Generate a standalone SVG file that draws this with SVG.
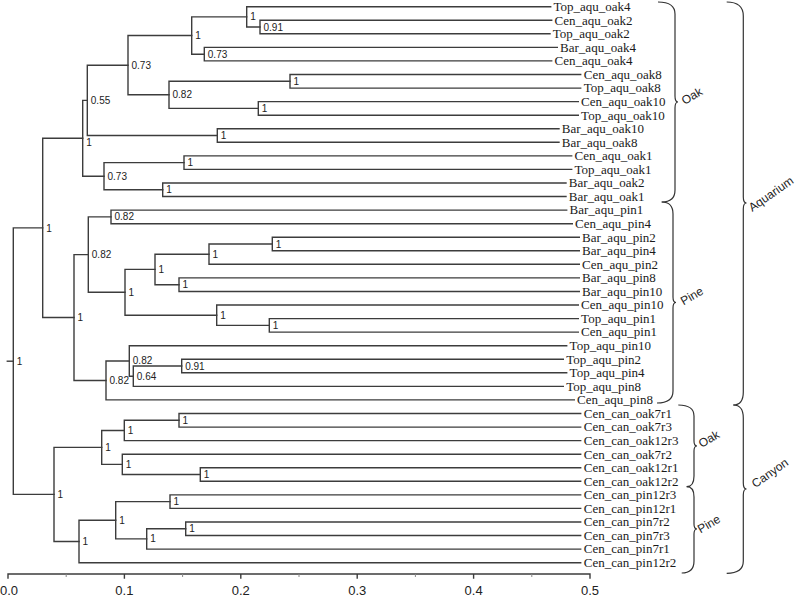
<svg xmlns="http://www.w3.org/2000/svg" width="798" height="597" viewBox="0 0 798 597">
<style>
.br{fill:none;stroke:#3c3c3c;stroke-width:1.4;stroke-linecap:square}
.lf{font-family:"Liberation Serif","Times New Roman",serif;font-size:13px;fill:#1a1a1a}
.sp{font-family:"Liberation Sans",Arial,sans-serif;font-size:10px;fill:#222;dominant-baseline:central}
.ax{font-family:"Liberation Sans",Arial,sans-serif;font-size:13px;fill:#222;text-anchor:middle}
.gl{font-family:"Liberation Sans",Arial,sans-serif;font-size:12px;fill:#222;text-anchor:middle;dominant-baseline:central}
.bc{fill:none;stroke:#333;stroke-width:1.2}
</style>
<rect width="798" height="597" fill="#fff"/>
<g id="connectors" class="br">
<path d="M551.7 20.3H260V33.8H550"/>
<path d="M550.7 6.7H246.7V27H260"/>
<path d="M557.3 47.4H204.3V60.9H551.7"/>
<path d="M246.7 16.9H191.7V54.2H204.3"/>
<path d="M580.7 74.5H290V88.1H580.7"/>
<path d="M578.3 101.6H258.3V115.2H578.3"/>
<path d="M290 81.3H169V108.4H258.3"/>
<path d="M191.7 35.5H128V94.8H169"/>
<path d="M559 128.7H217.3V142.3H559"/>
<path d="M128 65.2H87.3V135.5H217.3"/>
<path d="M571.7 155.9H184V169.4H571.7"/>
<path d="M566 183H162.7V196.5H566"/>
<path d="M184 162.6H104V189.8H162.7"/>
<path d="M87.3 100.4H82.7V176.2H104"/>
<path d="M566.7 210.1H111V223.7H572.3"/>
<path d="M579.3 237.2H272.3V250.8H579.3"/>
<path d="M272.3 244H209V264.3H579.3"/>
<path d="M579.3 277.9H179V291.5H579.3"/>
<path d="M209 254.2H155V284.7H179"/>
<path d="M578.3 318.6H269.3V332.1H578.3"/>
<path d="M578.3 305H216.7V325.4H269.3"/>
<path d="M155 269.4H125V315.2H216.7"/>
<path d="M111 216.9H88.3V292.3H125"/>
<path d="M563.3 359.3H181.7V372.8H566.7"/>
<path d="M181.7 366H133.3V386.4H563.3"/>
<path d="M566.7 345.7H129.3V376.2H133.3"/>
<path d="M129.3 361H106V399.9H574.3"/>
<path d="M88.3 254.6H74V380.5H106"/>
<path d="M82.7 138.3H42.7V317.5H74"/>
<path d="M580.7 413.5H179V427.1H580.7"/>
<path d="M179 420.3H124.3V440.6H580.7"/>
<path d="M580.7 467.7H200.3V481.3H580.7"/>
<path d="M580.7 454.2H122.3V474.5H200.3"/>
<path d="M124.3 430.5H101.7V464.4H122.3"/>
<path d="M580.7 494.9H170V508.4H580.7"/>
<path d="M580.7 522H185.7V535.5H580.7"/>
<path d="M185.7 528.8H146.7V549.1H580.7"/>
<path d="M170 501.6H115.7V538.9H146.7"/>
<path d="M115.7 520.3H79V562.7H580.7"/>
<path d="M101.7 447.4H54V541.5H79"/>
<path d="M42.7 227.9H13.3V494.4H54"/>
<path d="M7.3 361.2H13.3"/>
</g>
<g id="leaves" class="lf">
<g id="leaf0"><text x="553.5" y="11">Top_aqu_oak4</text></g>
<g id="leaf1"><text x="554.5" y="24.6">Cen_aqu_oak2</text></g>
<g id="leaf2"><text x="552.8" y="38.1">Top_aqu_oak2</text></g>
<g id="leaf3"><text x="560.1" y="51.7">Bar_aqu_oak4</text></g>
<g id="leaf4"><text x="554.5" y="65.2">Cen_aqu_oak4</text></g>
<g id="leaf5"><text x="583.8" y="78.8">Cen_aqu_oak8</text></g>
<g id="leaf6"><text x="583.8" y="92.4">Top_aqu_oak8</text></g>
<g id="leaf7"><text x="581.1" y="105.9">Cen_aqu_oak10</text></g>
<g id="leaf8"><text x="581.1" y="119.5">Top_aqu_oak10</text></g>
<g id="leaf9"><text x="561.8" y="133">Bar_aqu_oak10</text></g>
<g id="leaf10"><text x="561.8" y="146.6">Bar_aqu_oak8</text></g>
<g id="leaf11"><text x="574.5" y="160.2">Cen_aqu_oak1</text></g>
<g id="leaf12"><text x="574.5" y="173.7">Top_aqu_oak1</text></g>
<g id="leaf13"><text x="568.8" y="187.3">Bar_aqu_oak2</text></g>
<g id="leaf14"><text x="568.8" y="200.8">Bar_aqu_oak1</text></g>
<g id="leaf15"><text x="569.6" y="214.4">Bar_aqu_pin1</text></g>
<g id="leaf16"><text x="575.1" y="228">Cen_aqu_pin4</text></g>
<g id="leaf17"><text x="582.1" y="241.5">Bar_aqu_pin2</text></g>
<g id="leaf18"><text x="582.1" y="255.1">Bar_aqu_pin4</text></g>
<g id="leaf19"><text x="582.1" y="268.6">Cen_aqu_pin2</text></g>
<g id="leaf20"><text x="582.1" y="282.2">Bar_aqu_pin8</text></g>
<g id="leaf21"><text x="582.1" y="295.8">Bar_aqu_pin10</text></g>
<g id="leaf22"><text x="581.1" y="309.3">Cen_aqu_pin10</text></g>
<g id="leaf23"><text x="581.1" y="322.9">Top_aqu_pin1</text></g>
<g id="leaf24"><text x="581.1" y="336.4">Cen_aqu_pin1</text></g>
<g id="leaf25"><text x="569.6" y="350">Top_aqu_pin10</text></g>
<g id="leaf26"><text x="566.2" y="363.6">Top_aqu_pin2</text></g>
<g id="leaf27"><text x="569.6" y="377.1">Top_aqu_pin4</text></g>
<g id="leaf28"><text x="566.2" y="390.7">Top_aqu_pin8</text></g>
<g id="leaf29"><text x="577.1" y="404.2">Cen_aqu_pin8</text></g>
<g id="leaf30"><text x="583.8" y="417.8">Cen_can_oak7r1</text></g>
<g id="leaf31"><text x="583.8" y="431.4">Cen_can_oak7r3</text></g>
<g id="leaf32"><text x="583.8" y="444.9">Cen_can_oak12r3</text></g>
<g id="leaf33"><text x="583.8" y="458.5">Cen_can_oak7r2</text></g>
<g id="leaf34"><text x="583.8" y="472">Cen_can_oak12r1</text></g>
<g id="leaf35"><text x="583.8" y="485.6">Cen_can_oak12r2</text></g>
<g id="leaf36"><text x="583.8" y="499.2">Cen_can_pin12r3</text></g>
<g id="leaf37"><text x="583.8" y="512.7">Cen_can_pin12r1</text></g>
<g id="leaf38"><text x="583.8" y="526.3">Cen_can_pin7r2</text></g>
<g id="leaf39"><text x="583.8" y="539.8">Cen_can_pin7r3</text></g>
<g id="leaf40"><text x="583.8" y="553.4">Cen_can_pin7r1</text></g>
<g id="leaf41"><text x="583.8" y="567">Cen_can_pin12r2</text></g>
</g>
<g id="support" class="sp">
<g id="nA1"><text x="263.5" y="27">0.91</text></g>
<g id="nA2"><text x="250.2" y="16.9">1</text></g>
<g id="nA3"><text x="207.8" y="54.2">0.73</text></g>
<g id="nA4"><text x="195.2" y="35.5">1</text></g>
<g id="nA5"><text x="293.5" y="81.3">1</text></g>
<g id="nA6"><text x="261.8" y="108.4">1</text></g>
<g id="nA7"><text x="172.5" y="94.8">0.82</text></g>
<g id="nA8"><text x="131.5" y="65.2">0.73</text></g>
<g id="nB1"><text x="220.8" y="135.5">1</text></g>
<g id="nA9"><text x="90.8" y="100.4">0.55</text></g>
<g id="nB2"><text x="187.5" y="162.6">1</text></g>
<g id="nB3"><text x="166.2" y="189.8">1</text></g>
<g id="nB4"><text x="107.5" y="176.2">0.73</text></g>
<g id="nOAK"><text x="86.2" y="142.7">1</text></g>
<g id="nP1"><text x="114.5" y="216.9">0.82</text></g>
<g id="nP2"><text x="275.8" y="244">1</text></g>
<g id="nP3"><text x="212.5" y="254.2">1</text></g>
<g id="nP4"><text x="182.5" y="284.7">1</text></g>
<g id="nP5"><text x="158.5" y="269.4">1</text></g>
<g id="nP6"><text x="272.8" y="325.4">1</text></g>
<g id="nP7"><text x="220.2" y="315.2">1</text></g>
<g id="nP8"><text x="128.5" y="292.3">1</text></g>
<g id="nP9"><text x="91.8" y="254.6">0.82</text></g>
<g id="nP10"><text x="185.2" y="366">0.91</text></g>
<g id="nP11"><text x="136.8" y="376.5">0.64</text></g>
<g id="nP12"><text x="132.8" y="360">0.82</text></g>
<g id="nP13"><text x="109.5" y="380.5">0.82</text></g>
<g id="nPINE"><text x="77.5" y="317.5">1</text></g>
<g id="nAQ"><text x="46.2" y="228">1</text></g>
<g id="nC1"><text x="182.5" y="420.3">1</text></g>
<g id="nC2"><text x="127.8" y="430.5">1</text></g>
<g id="nC3"><text x="203.8" y="474.5">1</text></g>
<g id="nC4"><text x="125.8" y="464">1</text></g>
<g id="nC5"><text x="105.2" y="447">1</text></g>
<g id="nC6"><text x="173.5" y="501.6">1</text></g>
<g id="nC7"><text x="189.2" y="528.8">1</text></g>
<g id="nC8"><text x="150.2" y="538.9">1</text></g>
<g id="nC9"><text x="119.2" y="520.3">1</text></g>
<g id="nC10"><text x="82.5" y="541">1</text></g>
<g id="nCAN"><text x="57.5" y="494.4">1</text></g>
<g id="nROOT"><text x="16.8" y="361.2">1</text></g>
</g>
<g id="axis">
<path class="br" d="M8 574H590M8 574V578M124.4 574V578M240.8 574V578M357.2 574V578M473.6 574V578M590 574V578"/>
<path d="M66.2 574V577M182.6 574V577M299 574V577M415.4 574V577M531.8 574V577" stroke="#888" stroke-width="1" fill="none"/>
<g class="ax">
<text x="9" y="595">0.0</text>
<text x="124.4" y="595">0.1</text>
<text x="240.8" y="595">0.2</text>
<text x="357.2" y="595">0.3</text>
<text x="473.6" y="595">0.4</text>
<text x="590" y="595">0.5</text>
</g>
</g>
<g id="groups">
<path class="bc" d="M658 2Q675 2 675 14V96Q675 102 678 102Q675 102 675 108V190Q675 202 661.7 202"/>
<path class="bc" d="M661.7 202Q673 202 673 214V297Q673 302.5 676 302.5Q673 302.5 673 308V391Q673 403 657 403"/>
<path class="bc" d="M726.7 2Q743.3 2 743.3 16V197Q743.3 203 746.5 203Q743.3 203 743.3 209V392Q743.3 405 733.3 405"/>
<path class="bc" d="M733.3 405Q743.3 405 743.3 418V483Q743.3 489 746.5 489Q743.3 489 743.3 495V561Q743.3 573.3 726.7 573.3"/>
<path class="bc" d="M678.3 405Q694 405 694 416V441Q694 446 697 446Q694 446 694 451V476Q694 486.7 686.7 486.7"/>
<path class="bc" d="M686.7 486.7Q694 486.7 694 497V524Q694 529 697 529Q694 529 694 534V561Q694 573 681.7 573"/>
<g id="lblAqOak"><text class="gl" transform="translate(692 96) rotate(-30)">Oak</text></g>
<g id="lblAqPine"><text class="gl" transform="translate(692 296) rotate(-30)">Pine</text></g>
<g id="lblAquarium"><text class="gl" transform="translate(771 194) rotate(-35)">Aquarium</text></g>
<g id="lblCanOak"><text class="gl" transform="translate(709 439) rotate(-30)">Oak</text></g>
<g id="lblCanPine"><text class="gl" transform="translate(709 524) rotate(-30)">Pine</text></g>
<g id="lblCanyon"><text class="gl" transform="translate(770 473) rotate(-35)">Canyon</text></g>
</g>
</svg>
